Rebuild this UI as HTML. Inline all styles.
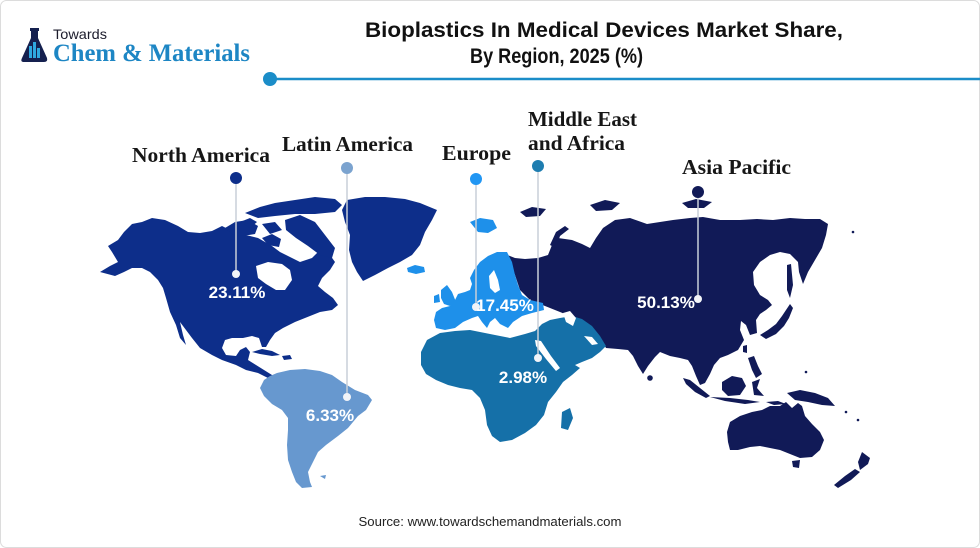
<!DOCTYPE html>
<html><head><meta charset="utf-8"><style>
html,body{margin:0;padding:0;background:#fff;}
svg{display:block;}
</style></head><body>
<svg width="980" height="548" viewBox="0 0 980 548" xmlns="http://www.w3.org/2000/svg">
<rect x="0.5" y="0.5" width="979" height="547" rx="6" fill="#fff" stroke="#dcdcdc"/>

<!-- Logo -->
<g>
<rect x="30" y="28" width="9" height="3" fill="#15204f"/>
<rect x="31" y="31" width="7" height="7" fill="#15204f"/>
<path d="M31,38 L38,38 L47,58 Q48,62 44,62 L24,62 Q20,62 22,58 Z" fill="#15204f"/>
<rect x="29" y="46" width="3" height="12" fill="#2fa8e0"/>
<rect x="33" y="42" width="3" height="16" fill="#2fa8e0"/>
<rect x="37" y="48" width="3" height="10" fill="#2fa8e0"/>
<text x="53" y="39" font-family="Liberation Sans, sans-serif" font-size="14" fill="#1c1c2c" textLength="54" lengthAdjust="spacingAndGlyphs">Towards</text>
<text x="53" y="61" font-family="Liberation Serif, serif" font-weight="bold" font-size="25" fill="#1d86c4" textLength="197" lengthAdjust="spacingAndGlyphs">Chem &amp; Materials</text>
</g>

<!-- Title -->
<text x="365" y="37" font-family="Liberation Sans, sans-serif" font-weight="bold" font-size="21" fill="#111" textLength="478" lengthAdjust="spacingAndGlyphs">Bioplastics In Medical Devices Market Share,</text>
<text x="470" y="63" font-family="Liberation Sans, sans-serif" font-weight="bold" font-size="21" fill="#111" textLength="173" lengthAdjust="spacingAndGlyphs">By Region, 2025 (%)</text>
<line x1="270" y1="79" x2="980" y2="79" stroke="#1b8dc8" stroke-width="2.5"/>
<circle cx="270" cy="79" r="7" fill="#1b8dc8"/>

<!-- Asia Pacific -->
<g fill="#111a57">
<path d="M505,254 L515,258 L525,259 L538,258 L548,255 L552,245 L558,238 L572,240 L582,244 L590,248 L596,238 L603,228 L615,220 L630,218 L647,224 L660,222 L673,220 L690,218 L703,217 L720,220 L740,220 L757,219 L773,220 L790,218 L805,219 L820,219 L828,224 L826,235 L822,248 L815,260 L808,272 L803,284 L799,272 L798,262 L790,254 L780,252 L770,255 L760,262 L753,272 L754,285 L760,295 L768,300 L772,305 L766,310 L760,314 L756,320 L757,333 L750,335 L746,325 L741,321 L740,330 L744,340 L738,350 L728,355 L720,358 L714,365 L710,374 L705,383 L700,385 L696,376 L692,366 L688,360 L680,358 L670,356 L660,352 L655,357 L648,366 L643,374 L638,366 L633,356 L628,350 L618,349 L606,348 L598,335 L588,325 L575,318 L560,312 L545,306 L530,300 L520,290 L515,275 L510,263 Z"/>
<path d="M550,245 L556,232 L565,226 L569,229 L560,236 L556,248 Z"/>
<path d="M520,212 L532,207 L546,209 L540,216 L526,217 Z"/>
<path d="M590,205 L605,200 L620,203 L612,210 L596,211 Z"/>
<path d="M682,203 L696,199 L712,202 L704,208 L688,208 Z"/>
<path d="M760,335 L768,330 L776,324 L782,316 L786,310 L790,304 L793,308 L789,318 L784,326 L776,334 L766,339 Z"/>
<path d="M787,265 L791,264 L793,285 L790,298 L787,290 Z"/>
<circle cx="650" cy="378" r="2.8"/>
<path d="M743,346 L747,345 L747,353 L743,352 Z"/>
<path d="M683,378 L690,380 L700,388 L710,396 L706,398 L695,392 L686,384 Z"/>
<path d="M710,397 L730,398 L748,400 L760,402 L745,404 L725,401 Z"/>
<path d="M722,382 L732,376 L742,378 L746,386 L740,395 L728,396 L722,390 Z"/>
<path d="M752,382 L760,379 L757,388 L764,396 L754,395 Z"/>
<path d="M748,358 L754,356 L758,366 L762,374 L756,378 L752,370 Z"/>
<path d="M787,393 L800,390 L815,393 L828,398 L835,406 L822,405 L808,402 L795,400 Z"/>
<path d="M766,402 L778,401 L786,404 L774,405 Z"/>
<path d="M727,432 L730,422 L740,416 L752,412 L762,410 L770,406 L780,406 L786,402 L792,408 L798,403 L802,406 L805,416 L812,424 L820,432 L824,440 L820,450 L812,457 L800,458 L790,454 L780,450 L770,448 L760,446 L750,447 L738,450 L730,450 L728,442 Z"/>
<path d="M792,461 L800,460 L799,468 L793,467 Z"/>
<path d="M862,452 L870,458 L868,464 L860,470 L858,462 Z"/>
<path d="M855,469 L860,472 L851,480 L838,488 L834,485 L845,476 Z"/>
<circle cx="806" cy="372" r="1.3"/><circle cx="846" cy="412" r="1.3"/><circle cx="858" cy="420" r="1.3"/><circle cx="853" cy="232" r="1.3"/>
</g>

<!-- Europe -->
<g fill="#1e90ea">
<path d="M497,252 L507,252 L512,262 L515,275 L518,285 L522,295 L530,300 L543,303 L544,310 L532,313 L522,316 L513,322 L508,328 L500,324 L495,318 L490,322 L487,328 L482,322 L478,316 L472,318 L463,322 L455,328 L445,330 L436,328 L434,320 L436,312 L442,308 L450,306 L455,300 L458,294 L465,292 L470,290 L472,284 L470,278 L474,270 L480,262 L488,256 Z"/>
<path d="M441,290 L447,285 L452,292 L456,302 L450,306 L444,304 L441,298 Z"/>
<path d="M434,296 L439,294 L440,302 L434,303 Z"/>
<path d="M470,222 L480,218 L493,220 L497,228 L488,233 L478,232 Z"/>
<path d="M407,268 L415,265 L424,267 L425,272 L416,274 L408,272 Z"/>
</g>
<path d="M489,276 L494,270 L498,280 L500,290 L495,293 L490,288 Z" fill="#fff"/>

<!-- Middle East & Africa -->
<g fill="#1570a8">
<path d="M427,340 L440,333 L455,331 L470,330 L480,332 L495,335 L510,338 L525,334 L535,331 L542,324 L550,320 L560,318 L572,316 L582,319 L592,326 L600,336 L606,346 L600,352 L592,358 L582,362 L575,365 L580,368 L572,375 L563,382 L556,392 L548,402 L544,415 L536,425 L525,433 L512,440 L500,442 L492,436 L487,425 L485,410 L480,398 L472,390 L460,388 L448,385 L436,380 L426,374 L421,365 L421,352 Z"/>
<path d="M562,412 L570,408 L573,418 L568,430 L561,428 Z"/>
</g>
<path d="M535,340 L541,341 L551,356 L560,368 L556,371 L546,359 L536,346 Z" fill="#fff"/>
<path d="M584,336 L592,337 L598,344 L592,345 Z" fill="#fff"/>
<path d="M563,313 L570,311 L576,318 L573,326 L566,322 Z" fill="#fff"/>

<!-- North America -->
<g fill="#0d2e8a">
<path d="M100,272 L110,266 L118,262 L112,252 L108,246 L118,240 L124,232 L132,224 L142,222 L152,218 L165,220 L178,226 L188,232 L200,233 L212,231 L222,226 L230,230 L240,234 L250,236 L258,238 L265,242 L272,246 L280,252 L288,256 L300,262 L312,258 L320,250 L330,255 L335,262 L330,270 L322,278 L318,286 L325,292 L333,298 L338,305 L332,310 L320,312 L305,318 L295,322 L283,328 L275,333 L270,340 L266,347 L262,347 L259,338 L252,336 L243,338 L232,338 L225,340 L222,348 L226,355 L236,356 L240,350 L246,347 L250,352 L248,360 L256,365 L264,370 L272,375 L280,378 L276,381 L268,378 L258,373 L246,370 L236,365 L222,360 L212,355 L200,348 L192,338 L186,330 L180,322 L183,335 L186,345 L180,338 L176,325 L170,312 L166,298 L163,288 L158,280 L150,272 L142,268 L132,268 L124,272 L115,276 Z"/>
<path d="M225,228 L235,222 L248,220 L258,226 L255,234 L243,236 L232,234 Z"/>
<path d="M285,220 L300,215 L315,222 L325,235 L335,248 L332,258 L320,255 L308,246 L296,238 L286,230 Z"/>
<path d="M245,213 L260,207 L275,203 L295,200 L315,197 L335,199 L342,205 L335,212 L315,214 L295,214 L275,216 L258,218 Z"/>
<path d="M262,224 L275,222 L282,230 L270,234 Z"/>
<path d="M262,238 L272,234 L281,239 L279,247 L268,245 Z"/>
<path d="M240,222 L250,218 L257,222 L250,228 Z"/>
<path d="M347,200 L365,197 L385,197 L405,199 L420,203 L437,210 L432,220 L425,232 L420,245 L412,255 L400,262 L388,268 L375,275 L363,281 L357,272 L352,262 L349,250 L350,235 L345,222 L342,210 Z"/>
<path d="M252,352 L262,349 L272,351 L280,355 L272,356 L260,354 Z"/>
<path d="M282,356 L290,355 L292,359 L284,360 Z"/>
</g>
<path d="M256,266 L268,262 L282,264 L290,270 L292,280 L285,290 L276,290 L266,284 L258,278 Z" fill="#fff"/>

<!-- Latin America -->
<path d="M277,373 L290,370 L305,369 L320,371 L332,375 L342,382 L355,390 L368,395 L372,400 L366,410 L358,416 L348,428 L338,436 L326,445 L318,452 L313,462 L308,472 L310,482 L312,487 L302,488 L296,482 L292,472 L288,460 L287,445 L288,430 L288,418 L282,410 L272,404 L264,396 L260,388 L264,380 L270,376 Z" fill="#6798cf"/>
<path d="M320,476 L326,475 L325,479 Z" fill="#6798cf"/>

<!-- Leader lines -->
<g stroke="#c9cfd8" stroke-width="1.5">
<line x1="236" y1="178" x2="236" y2="274"/>
<line x1="347" y1="168" x2="347" y2="397"/>
<line x1="476" y1="179" x2="476" y2="307"/>
<line x1="538" y1="166" x2="538" y2="358"/>
<line x1="698" y1="192" x2="698" y2="299"/>
</g>
<g fill="#f2f4f8">
<circle cx="236" cy="274" r="4"/>
<circle cx="347" cy="397" r="4"/>
<circle cx="476" cy="307" r="4"/>
<circle cx="538" cy="358" r="4"/>
<circle cx="698" cy="299" r="4"/>
</g>
<circle cx="236" cy="178" r="6" fill="#0d2e8a"/>
<circle cx="347" cy="168" r="6" fill="#7ba3cf"/>
<circle cx="476" cy="179" r="6" fill="#2196f3"/>
<circle cx="538" cy="166" r="6" fill="#1e7db0"/>
<circle cx="698" cy="192" r="6" fill="#111a57"/>

<!-- Region labels -->
<g font-family="Liberation Serif, serif" font-weight="bold" font-size="21" fill="#161616">
<text x="132" y="162" textLength="138" lengthAdjust="spacingAndGlyphs">North America</text>
<text x="282" y="151" textLength="131" lengthAdjust="spacingAndGlyphs">Latin America</text>
<text x="442" y="160" textLength="69" lengthAdjust="spacingAndGlyphs">Europe</text>
<text x="528" y="126" textLength="109" lengthAdjust="spacingAndGlyphs">Middle East</text>
<text x="528" y="150" textLength="97" lengthAdjust="spacingAndGlyphs">and Africa</text>
<text x="682" y="174" textLength="109" lengthAdjust="spacingAndGlyphs">Asia Pacific</text>
</g>

<!-- Values -->
<g font-family="Liberation Sans, sans-serif" font-weight="bold" font-size="17" fill="#ffffff" text-anchor="middle">
<text x="237" y="298">23.11%</text>
<text x="330" y="421">6.33%</text>
<text x="505" y="311">17.45%</text>
<text x="523" y="383">2.98%</text>
<text x="666" y="308">50.13%</text>
</g>

<text x="490" y="526" font-family="Liberation Sans, sans-serif" font-size="13" fill="#222" text-anchor="middle" textLength="263" lengthAdjust="spacingAndGlyphs">Source: www.towardschemandmaterials.com</text>
</svg>
</body></html>
